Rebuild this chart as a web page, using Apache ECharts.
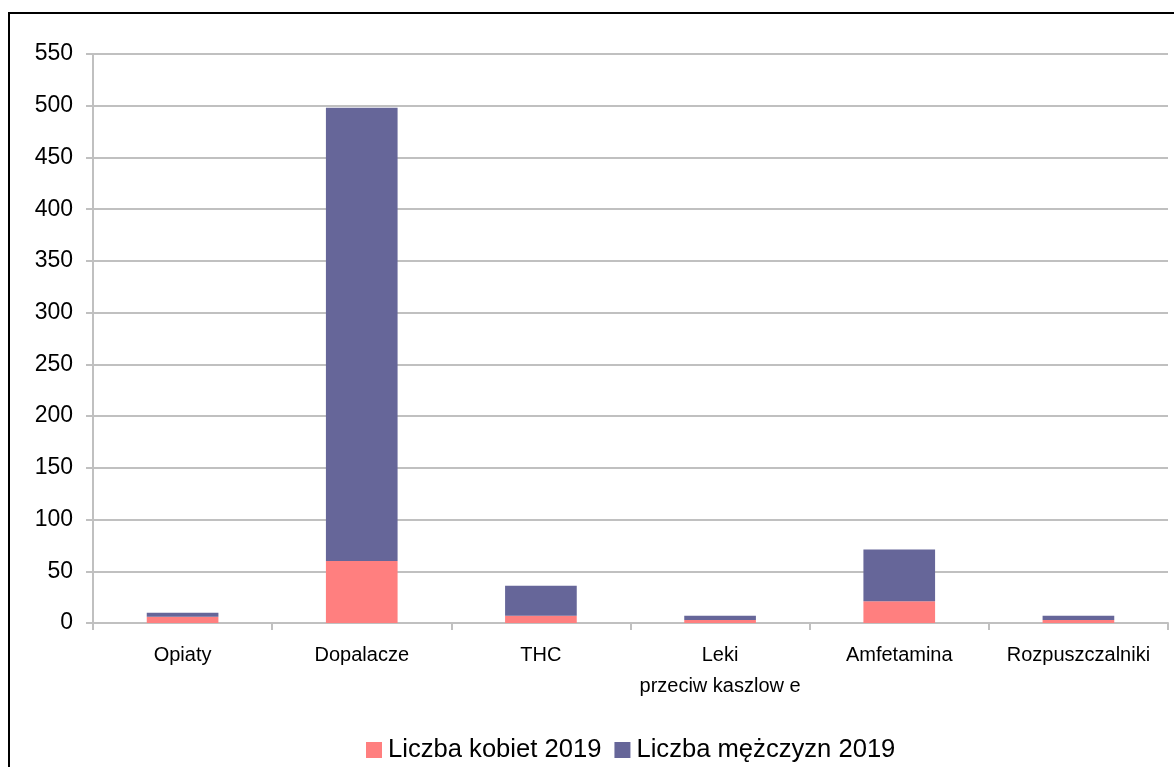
<!DOCTYPE html>
<html>
<head>
<meta charset="utf-8">
<script src="https://cdn.jsdelivr.net/npm/echarts@6/dist/echarts.min.js"></script>
<style>
    html, body { margin: 0; padding: 0; background: #fff; }
    #frame { position: absolute; left: 8px; top: 12px; width: 1200px; height: 800px; border-left: 2px solid #000; border-top: 2px solid #000; }
    #chart { position: absolute; left: 0; top: 0; width: 1174px; height: 767px; }
</style>
</head>
<body>
<div id="frame"></div>
<div id="chart"></div>
<script>
var categories = ['Opiaty', 'Dopalacze', 'THC', 'Leki\nprzeciw kaszlow e', 'Amfetamina', 'Rozpuszczalniki'];
var kobiety = [6, 60, 7, 3, 21, 3];
var mezczyzni = [4, 438, 29, 4, 50, 4];

// wykres skumulowany
var myChart = echarts.init(document.getElementById('chart'));
var option = {
    color: ['#ff7f7f', '#666699'],
    animation: false,
    grid: {
        left: 93,
        right: 6,
        top: 54,
        bottom: 144
    },
    legend: {
        top: 737,
        left: 366,
        itemWidth: 16,
        itemHeight: 16,
        itemGap: 13,
        icon: 'rect',
        padding: 0,
        textStyle: {
            fontFamily: 'Liberation Sans',
            fontSize: 25.6,
            color: '#000',
            padding: [0, 0, 0, 1]
        },
        data: ['Liczba kobiet 2019', 'Liczba mężczyzn 2019']
    },
    xAxis: {
        type: 'category',
        data: categories,
        axisLine: { lineStyle: { color: '#c0c0c0', width: 2 } },
        axisTick: { show: true, length: 7, lineStyle: { color: '#c0c0c0', width: 2 } },
        axisLabel: {
            interval: 0,
            margin: 17,
            color: '#000',
            fontFamily: 'Liberation Sans',
            fontSize: 20,
            lineHeight: 31
        }
    },
    yAxis: {
        type: 'value',
        min: 0,
        max: 550,
        interval: 50,
        axisLine: { show: true, lineStyle: { color: '#c0c0c0', width: 2 } },
        axisTick: { show: true, length: 7, lineStyle: { color: '#c0c0c0', width: 2 } },
        splitLine: { lineStyle: { color: '#c0c0c0', width: 2 } },
        axisLabel: {
            margin: 20,
            color: '#000',
            fontFamily: 'Liberation Sans',
            fontSize: 23
        }
    },
    series: [
        {
            name: 'Liczba kobiet 2019',
            type: 'bar',
            stack: 'razem',
            barWidth: '40%',
            data: kobiety
        },
        {
            name: 'Liczba mężczyzn 2019',
            type: 'bar',
            stack: 'razem',
            barWidth: '40%',
            data: mezczyzni
        }
    ]
};
myChart.setOption(option);
</script>
</body>
</html>
